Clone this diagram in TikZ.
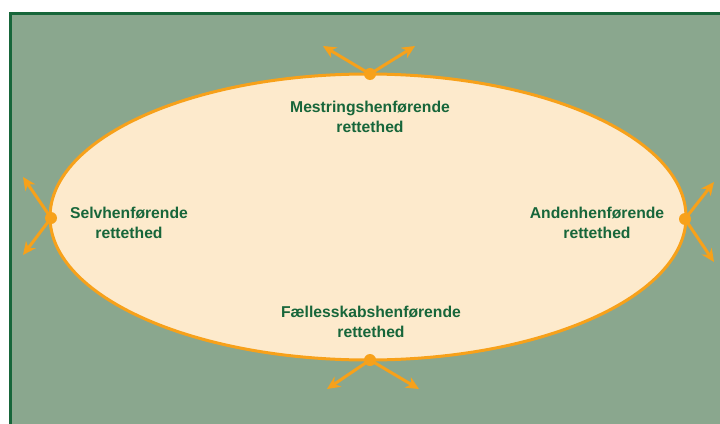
\documentclass[tikz,border=0pt]{standalone}
\usepackage{fontspec}
\setmainfont{Liberation Sans}
\usetikzlibrary{arrows.meta, positioning}
\definecolor{bggreen}{HTML}{8AA78E}
\definecolor{darkgreen}{HTML}{17663A}
\definecolor{cream}{HTML}{FDEACC}
\definecolor{orng}{HTML}{F7A11A}
\tikzset{
    dot/.style={circle, fill=orng, inner sep=0pt, minimum size=12pt},
    out arrow/.style={orng, line width=3pt, -{Stealth[length=13pt, width=12pt, inset=4pt]}},
    label text/.style={text=darkgreen, font=\fontsize{15.7}{20}\selectfont\bfseries, align=center}
}

\begin{document}
\begin{tikzpicture}[x=1pt, y=-1pt]
        \useasboundingbox (0,0) rectangle (720,423);
        \clip (0,0) rectangle (720,423);
        \draw[fill=bggreen, draw=darkgreen, line width=3pt] (10,13.5) rectangle (740,440);
        \draw[fill=cream, draw=orng, line width=3pt] (368,217) ellipse [x radius=318, y radius=143];

        \node[dot] (top) at (370,74) {};
        \node[dot] (bot) at (370,360) {};
        \node[dot] (lft) at (51,218) {};
        \node[dot] (rgt) at (685,219) {};

        \coordinate (topL) at (323,46);
        \coordinate (topR) at (415,46);
        \coordinate (botL) at (327,389);
        \coordinate (botR) at (419,389);
        \coordinate (lftU) at (23,177);
        \coordinate (lftD) at (23,255);
        \coordinate (rgtU) at (714,182);
        \coordinate (rgtD) at (714,262);

        \draw[out arrow] (top.center) -- (topL);
        \draw[out arrow] (top.center) -- (topR);
        \draw[out arrow] (bot.center) -- (botL);
        \draw[out arrow] (bot.center) -- (botR);
        \draw[out arrow] (lft.center) -- (lftU);
        \draw[out arrow] (lft.center) -- (lftD);
        \draw[out arrow] (rgt.center) -- (rgtU);
        \draw[out arrow] (rgt.center) -- (rgtD);

        \node[label text] (mestring) at (370,117) {Mestringshenførende\\rettethed};
        \node[label text] (selv) at (129,223) {Selvhenførende\\rettethed};
        \node[label text] (anden) at (597,223) {Andenhenførende\\rettethed};
        \node[label text] (faelles) at (371,322) {Fællesskabshenførende\\rettethed};
    \end{tikzpicture}
\end{document}
